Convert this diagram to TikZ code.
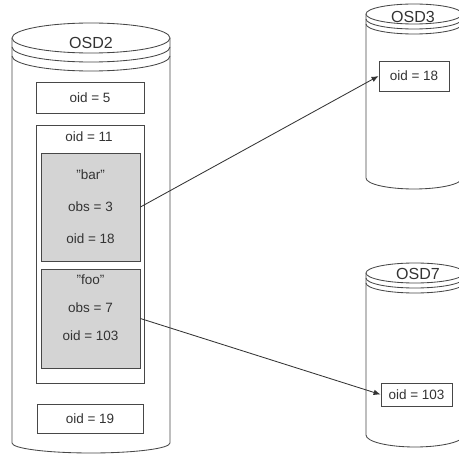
\documentclass[tikz,border=0pt]{standalone}
\usepackage{fontspec}
\setmainfont{Liberation Sans}
\usetikzlibrary{arrows.meta}

\begin{document}
\begin{tikzpicture}[
  disk/.style={draw=black!72,line width=0.6pt},
  oidbox/.style={draw=black!72,line width=0.6pt,fill=white,inner sep=0pt,text=black!80,
    font=\fontsize{9.6}{11.5}\selectfont},
  objbox/.style={oidbox,fill=black!17,align=center},
  osdname/.style={text=black!80,inner sep=0pt,font=\fontsize{11.4}{13}\selectfont},
  link/.style={draw=black!80,line width=0.6pt,-{Latex[length=5pt,width=4pt]}}]
\useasboundingbox (0,0) rectangle (11.475,-11.375);
\clip (0,0) rectangle (11.475,-11.375);
% OSD2
\draw[disk] (0.300,-0.950) -- (0.300,-11.075) arc[start angle=180,end angle=360,x radius=1.975,y radius=0.250] -- (4.250,-0.950);
\draw[disk,fill=white] (2.275,-0.950) ellipse [x radius=1.975,y radius=0.375];
\draw[disk] (0.300,-1.175) arc[start angle=180,end angle=360,x radius=1.975,y radius=0.375];
\draw[disk] (0.300,-1.400) arc[start angle=180,end angle=360,x radius=1.975,y radius=0.375];
\node[osdname] (osd2) at (2.275,-1.075) {OSD2};
\node[oidbox,minimum width=2.700cm,minimum height=0.775cm] (oid5) at (2.250,-2.438) {oid = 5};
\node[oidbox,minimum width=2.700cm,minimum height=6.450cm] (oid11) at (2.250,-6.350) {};
\node[oidbox,draw=none,fill=none] (oid11lbl) at (2.225,-3.425) {oid = 11};
\node[objbox,minimum width=2.475cm,minimum height=2.700cm] (bar) at (2.263,-5.175)
  {"bar"\\[11.3pt] obs = 3\\[11.3pt] oid = 18};
\node[objbox,minimum width=2.475cm,minimum height=2.475cm] (foo) at (2.263,-7.963)
  {"foo"\\[8.4pt] obs = 7\\[8.4pt] oid = 103\\[4pt]};
\node[oidbox,minimum width=2.650cm,minimum height=0.725cm] (oid19) at (2.250,-10.463) {oid = 19};
% OSD3
\draw[disk] (9.150,-0.350) -- (9.150,-4.450) arc[start angle=180,end angle=360,x radius=1.200,y radius=0.275] -- (11.550,-0.350);
\draw[disk,fill=white] (10.350,-0.350) ellipse [x radius=1.200,y radius=0.250];
\draw[disk] (9.150,-0.475) arc[start angle=180,end angle=360,x radius=1.200,y radius=0.250];
\draw[disk] (9.150,-0.600) arc[start angle=180,end angle=360,x radius=1.200,y radius=0.250];
\node[osdname] (osd3) at (10.325,-0.413) {OSD3};
\node[oidbox,minimum width=1.750cm,minimum height=0.750cm] (oid18) at (10.350,-1.900) {oid = 18};
% OSD7
\draw[disk] (9.150,-6.825) -- (9.150,-10.875) arc[start angle=180,end angle=360,x radius=1.225,y radius=0.300] -- (11.600,-6.825);
\draw[disk,fill=white] (10.375,-6.825) ellipse [x radius=1.225,y radius=0.250];
\draw[disk] (9.150,-6.950) arc[start angle=180,end angle=360,x radius=1.225,y radius=0.250];
\draw[disk] (9.150,-7.075) arc[start angle=180,end angle=360,x radius=1.225,y radius=0.250];
\node[osdname] (osd7) at (10.450,-6.850) {OSD7};
\node[oidbox,minimum width=1.775cm,minimum height=0.575cm] (oid103) at (10.413,-9.863) {oid = 103};
% links
\draw[link] (bar.east) -- (oid18.west);
\draw[link] (foo.east) -- (oid103.west);
\end{tikzpicture}
\end{document}
